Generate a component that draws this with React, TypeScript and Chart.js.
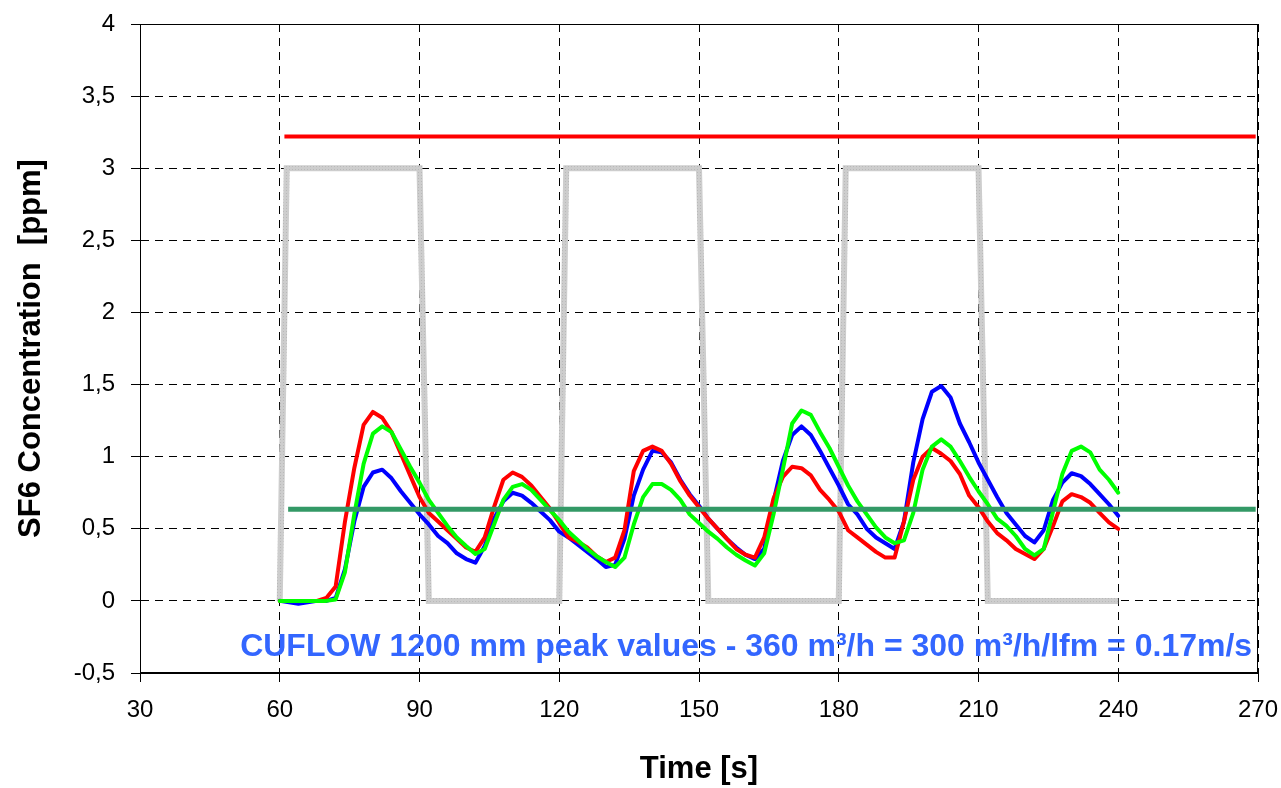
import React, { useEffect, useRef } from 'react';
import { Chart, registerables } from 'chart.js';

Chart.register(...registerables);

const times = [
  60, 62, 64, 66, 68, 70, 72, 74, 76, 78,
  80, 82, 84, 86, 88, 90, 92, 94, 96, 98,
  100, 102, 104, 106, 108, 110, 112, 114, 116, 118,
  120, 122, 124, 126, 128, 130, 132, 134, 136, 138,
  140, 142, 144, 146, 148, 150, 152, 154, 156, 158,
  160, 162, 164, 166, 168, 170, 172, 174, 176, 178,
  180, 182, 184, 186, 188, 190, 192, 194, 196, 198,
  200, 202, 204, 206, 208, 210, 212, 214, 216, 218,
  220, 222, 224, 226, 228, 230, 232, 234, 236, 238,
  240,
];

const blueSeries = [
  0, -0.01, -0.02, -0.01, 0, 0, 0.02, 0.22, 0.55, 0.79,
  0.89, 0.91, 0.85, 0.76, 0.68, 0.6, 0.53, 0.45, 0.4, 0.33,
  0.29, 0.265, 0.38, 0.57, 0.69, 0.75, 0.73, 0.68, 0.62, 0.56,
  0.48, 0.44, 0.39, 0.34, 0.29, 0.235, 0.25, 0.43, 0.73, 0.91,
  1.04, 1.03, 0.96, 0.84, 0.74, 0.66, 0.57, 0.5, 0.43, 0.37,
  0.32, 0.29, 0.36, 0.69, 0.97, 1.15, 1.21, 1.15, 1.04, 0.92,
  0.8, 0.67, 0.6, 0.5, 0.44, 0.4, 0.36, 0.55, 0.96, 1.26,
  1.45, 1.49, 1.41, 1.23, 1.1, 0.96, 0.84, 0.72, 0.61, 0.53,
  0.45, 0.405, 0.49, 0.7, 0.82, 0.885, 0.865, 0.81, 0.74, 0.67,
  0.59,
];

const redSeries = [
  0, 0, 0, 0, 0, 0.02, 0.1, 0.55, 0.92, 1.22,
  1.31, 1.27, 1.17, 1.02, 0.87, 0.72, 0.61, 0.55, 0.49, 0.43,
  0.37, 0.34, 0.44, 0.65, 0.84, 0.89, 0.86, 0.8, 0.72, 0.64,
  0.54, 0.44, 0.41, 0.37, 0.31, 0.27, 0.3, 0.49, 0.9, 1.04,
  1.07, 1.04, 0.95, 0.83, 0.73, 0.65, 0.57, 0.5, 0.43, 0.36,
  0.32, 0.3, 0.44, 0.71, 0.86, 0.93, 0.92, 0.87, 0.77, 0.7,
  0.62, 0.49, 0.44, 0.39, 0.34, 0.3, 0.3, 0.55, 0.84, 1.0,
  1.06, 1.02, 0.97, 0.88, 0.73, 0.65, 0.55, 0.47, 0.42, 0.36,
  0.325, 0.29, 0.36, 0.52, 0.69, 0.74, 0.72, 0.68, 0.61, 0.545,
  0.5,
];

const greenSeries = [
  0, 0, 0, 0, 0, 0, 0.01, 0.2, 0.6, 0.95,
  1.16, 1.21, 1.17, 1.05, 0.93, 0.82, 0.7, 0.61, 0.52, 0.44,
  0.38, 0.325, 0.36, 0.53, 0.7, 0.79, 0.81, 0.77, 0.7, 0.63,
  0.56, 0.48, 0.42, 0.36, 0.31, 0.27, 0.235, 0.3, 0.53, 0.72,
  0.81, 0.81, 0.77, 0.7, 0.6, 0.54, 0.48, 0.43, 0.37, 0.32,
  0.28, 0.245, 0.33, 0.6, 0.91, 1.23, 1.32, 1.29, 1.17, 1.06,
  0.93, 0.8, 0.69, 0.6, 0.51, 0.44, 0.4, 0.42, 0.61, 0.91,
  1.07, 1.12, 1.07, 0.97, 0.86, 0.76, 0.67, 0.57, 0.52, 0.45,
  0.36, 0.315, 0.36, 0.62, 0.88, 1.04, 1.07, 1.03, 0.91, 0.84,
  0.75,
];

const pulseTimes = [60, 61.5, 90, 92, 120, 121.5, 150, 152, 180, 181.5, 210, 212, 240];
const pulseValues = [0, 3, 3, 0, 0, 3, 3, 0, 0, 3, 3, 0, 0];

const redLimitTimes = [61, 269.5];
const redLimitValues = [3.22, 3.22];
const greenLimitTimes = [61.8, 269.5];
const greenLimitValues = [0.635, 0.635];

const xTicks = [30, 60, 90, 120, 150, 180, 210, 240, 270];
const xTickLabels = ['30', '60', '90', '120', '150', '180', '210', '240', '270'];
const yTicks = [-0.5, 0, 0.5, 1, 1.5, 2, 2.5, 3, 3.5, 4];
const yTickLabels = ['-0,5', '0', '0,5', '1', '1,5', '2', '2,5', '3', '3,5', '4'];

const xTitle = 'Time [s]';
const yTitle = 'SF6 Concentration  [ppm]';
const noteText = 'CUFLOW 1200 mm peak values - 360 m³/h = 300 m³/h/lfm = 0.17m/s';
const noteAt = { x: 51.5, y: -0.32 };

const FONT = '"Liberation Sans", Arial, sans-serif';

const toPoints = (xs: number[], ys: number[]) => xs.map((x, i) => ({ x, y: ys[i] }));

export default function App() {
  const canvasRef = useRef<HTMLCanvasElement | null>(null);

  useEffect(() => {
    const canvas = canvasRef.current;
    if (!canvas) return;
    const ctx = canvas.getContext('2d');
    if (!ctx) return;

    const pc = document.createElement('canvas');
    pc.width = 3;
    pc.height = 3;
    const pctx = pc.getContext('2d')!;
    pctx.fillStyle = '#cdcdcd';
    pctx.fillRect(0, 0, 3, 3);
    pctx.fillStyle = '#b9b9b9';
    pctx.fillRect(1, 1, 1, 1);
    const grayPattern = ctx.createPattern(pc, 'repeat') || '#c8c8c8';

    const framePlugin = {
      id: 'frameAndNote',
      beforeDatasetsDraw(chart: any) {
        const { ctx: c, chartArea: a } = chart;
        c.save();
        c.strokeStyle = '#000';
        c.lineWidth = 1;
        c.setLineDash([]);
        c.strokeRect(Math.round(a.left) + 0.5, Math.round(a.top) + 0.5, Math.round(a.right - a.left) - 1, Math.round(a.bottom - a.top) - 1);
        c.restore();
      },
      afterDatasetsDraw(chart: any) {
        const { ctx: c, scales } = chart;
        const px = scales.x.getPixelForValue(noteAt.x);
        const py = scales.y.getPixelForValue(noteAt.y);
        c.save();
        c.font = `bold 32px ${FONT}`;
        c.fillStyle = '#3366ff';
        c.textAlign = 'left';
        c.textBaseline = 'middle';
        c.fillText(noteText, px, py);
        c.restore();
      },
    };

    const lineBase = {
      pointRadius: 0,
      pointHoverRadius: 0,
      borderJoinStyle: 'round' as const,
      borderCapStyle: 'round' as const,
      tension: 0,
      fill: false,
    };

    const chart = new Chart(ctx, {
      type: 'line',
      data: {
        datasets: [
          { ...lineBase, label: 'limit red', data: toPoints(redLimitTimes, redLimitValues), borderColor: '#ff0000', borderWidth: 4, order: 0, borderCapStyle: 'butt' },
          { ...lineBase, label: 'limit green', data: toPoints(greenLimitTimes, greenLimitValues), borderColor: '#339966', borderWidth: 5, order: 1, borderCapStyle: 'butt' },
          { ...lineBase, label: 'green', data: toPoints(times, greenSeries), borderColor: '#00ff00', borderWidth: 4, order: 2 },
          { ...lineBase, label: 'red', data: toPoints(times, redSeries), borderColor: '#ff0000', borderWidth: 4, order: 3 },
          { ...lineBase, label: 'blue', data: toPoints(times, blueSeries), borderColor: '#0000ff', borderWidth: 4, order: 4 },
          { ...lineBase, label: 'pulse', data: toPoints(pulseTimes, pulseValues), borderColor: grayPattern as any, borderWidth: 6, order: 5, borderJoinStyle: 'miter', borderCapStyle: 'butt' },
        ],
      },
      options: {
        responsive: false,
        animation: false,
        events: [],
        layout: { padding: { left: 0, right: 23, top: 24, bottom: 0 } },
        plugins: {
          legend: { display: false },
          tooltip: { enabled: false },
          title: { display: false },
        },
        scales: {
          x: {
            type: 'linear',
            min: 30,
            max: 270,
            afterBuildTicks: (s: any) => {
              s.ticks = xTicks.map((v) => ({ value: v }));
            },
            afterFit: (s: any) => {
              s.height = 115;
              s.paddingLeft = 0;
              s.paddingRight = 0;
            },
            ticks: {
              autoSkip: false,
              maxRotation: 0,
              color: '#000',
              padding: 14,
              font: { family: FONT, size: 24 },
              callback: (v: any) => xTickLabels[xTicks.indexOf(Number(v))] ?? '',
            },
            grid: {
              color: '#000',
              lineWidth: 1,
              drawTicks: true,
              tickLength: 9,
              tickColor: '#000',
              tickWidth: 1,
              tickBorderDash: [],
            },
            border: { display: true, color: '#000', width: 1, dash: [8, 6] },
            title: {
              display: true,
              text: xTitle,
              color: '#000',
              font: { family: FONT, size: 31, weight: 'bold' },
              padding: { top: 0, bottom: 0 },
            },
          },
          y: {
            type: 'linear',
            min: -0.5,
            max: 4,
            afterBuildTicks: (s: any) => {
              s.ticks = yTicks.map((v) => ({ value: v }));
            },
            afterFit: (s: any) => {
              s.width = 140;
              s.paddingTop = 0;
              s.paddingBottom = 0;
            },
            ticks: {
              autoSkip: false,
              color: '#000',
              padding: 16,
              font: { family: FONT, size: 24 },
              callback: (v: any) => yTickLabels[yTicks.indexOf(Number(v))] ?? '',
            },
            grid: {
              color: '#000',
              lineWidth: 1,
              drawTicks: true,
              tickLength: 9,
              tickColor: '#000',
              tickWidth: 1,
              tickBorderDash: [],
            },
            border: { display: true, color: '#000', width: 1, dash: [8, 6] },
            title: {
              display: true,
              text: yTitle,
              color: '#000',
              font: { family: FONT, size: 31, weight: 'bold' },
              padding: { top: 13, bottom: 0 },
            },
          },
        },
      },
      plugins: [framePlugin],
    } as any);

    return () => {
      chart.destroy();
    };
  }, []);

  return (
    <canvas
      ref={canvasRef}
      width={1281}
      height={788}
      style={{ position: 'absolute', left: 0, top: 0, display: 'block', background: '#fff' }}
    />
  );
}
